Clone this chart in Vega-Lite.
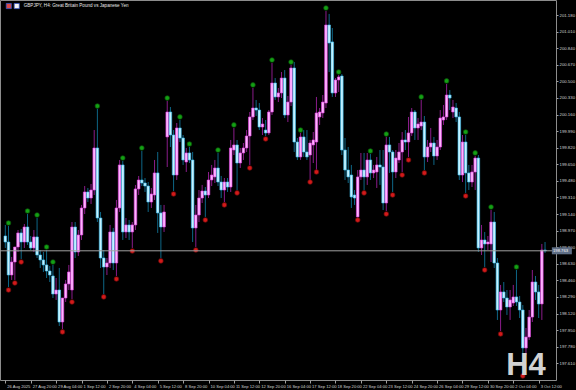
{
"$schema": "https://vega.github.io/schema/vega-lite/v6.json",
"width": 556, "height": 380,
"autosize": {"type": "none"},
"padding": {"left": 0, "top": 0, "right": 20, "bottom": 10},
"background": "#000000",
"config": {"view": {"stroke": "#8c8c8c", "strokeWidth": 1}, "font": "Liberation Sans"},
"resolve": {"axis": {"x": "independent", "y": "independent"}},
"datasets": {"bars": [
{"i":0,"o":198.915,"h":199.028,"l":198.792,"c":198.853},
{"i":1,"o":198.853,"h":199.017,"l":198.392,"c":198.515,"up":199.048,"dn":198.361},
{"i":2,"o":198.515,"h":198.700,"l":198.464,"c":198.648},
{"i":3,"o":198.648,"h":198.771,"l":198.464,"c":198.802,"dn":198.433},
{"i":4,"o":198.802,"h":198.976,"l":198.751,"c":198.946},
{"i":5,"o":198.946,"h":198.987,"l":198.679,"c":198.853,"dn":198.648},
{"i":6,"o":198.853,"h":199.038,"l":198.792,"c":199.007},
{"i":7,"o":199.007,"h":199.140,"l":198.823,"c":198.853,"up":199.171},
{"i":8,"o":198.853,"h":198.915,"l":198.771,"c":198.792},
{"i":9,"o":198.792,"h":198.976,"l":198.751,"c":198.905},
{"i":10,"o":198.905,"h":199.099,"l":198.689,"c":198.720,"up":199.130},
{"i":11,"o":198.720,"h":198.771,"l":198.587,"c":198.669},
{"i":12,"o":198.669,"h":198.751,"l":198.546,"c":198.618},
{"i":13,"o":198.618,"h":198.771,"l":198.484,"c":198.556,"up":198.802},
{"i":14,"o":198.556,"h":198.607,"l":198.443,"c":198.515},
{"i":15,"o":198.505,"h":198.618,"l":198.279,"c":198.320,"up":198.648},
{"i":16,"o":198.320,"h":198.484,"l":198.259,"c":198.361},
{"i":17,"o":198.361,"h":198.587,"l":197.992,"c":198.033},
{"i":18,"o":198.033,"h":198.259,"l":197.961,"c":198.279,"dn":197.931},
{"i":19,"o":198.279,"h":198.464,"l":198.238,"c":198.423},
{"i":20,"o":198.423,"h":198.618,"l":198.361,"c":198.546},
{"i":21,"o":198.361,"h":199.058,"l":198.269,"c":199.007,"dn":198.238},
{"i":22,"o":199.007,"h":199.058,"l":198.689,"c":198.751},
{"i":23,"o":198.751,"h":198.976,"l":198.710,"c":198.925},
{"i":24,"o":198.925,"h":199.233,"l":198.874,"c":199.202},
{"i":25,"o":199.202,"h":199.427,"l":199.140,"c":199.366},
{"i":26,"o":199.366,"h":199.407,"l":199.263,"c":199.304},
{"i":27,"o":199.304,"h":199.448,"l":199.243,"c":199.386},
{"i":28,"o":199.386,"h":200.001,"l":199.335,"c":199.817},
{"i":29,"o":199.817,"h":200.217,"l":199.058,"c":199.099,"up":200.247},
{"i":30,"o":199.099,"h":199.161,"l":198.587,"c":198.689},
{"i":31,"o":198.689,"h":198.771,"l":198.320,"c":198.597,"dn":198.290},
{"i":32,"o":198.597,"h":198.689,"l":198.515,"c":198.638},
{"i":33,"o":198.638,"h":199.028,"l":198.587,"c":198.956},
{"i":34,"o":198.956,"h":198.997,"l":198.566,"c":198.638},
{"i":35,"o":198.638,"h":199.284,"l":198.505,"c":199.202,"dn":198.474},
{"i":36,"o":199.202,"h":199.694,"l":199.161,"c":199.643},
{"i":37,"o":199.643,"h":199.684,"l":198.874,"c":198.956,"up":199.714},
{"i":38,"o":198.956,"h":199.099,"l":198.894,"c":199.028},
{"i":39,"o":199.028,"h":199.079,"l":198.874,"c":198.956},
{"i":40,"o":198.956,"h":199.058,"l":198.792,"c":199.028,"dn":198.761},
{"i":41,"o":199.028,"h":199.438,"l":198.976,"c":199.397},
{"i":42,"o":199.397,"h":199.530,"l":199.335,"c":199.489},
{"i":43,"o":199.489,"h":199.786,"l":199.427,"c":199.458,"up":199.817},
{"i":44,"o":199.458,"h":199.509,"l":199.366,"c":199.427},
{"i":45,"o":199.427,"h":199.468,"l":199.161,"c":199.263},
{"i":46,"o":199.263,"h":199.407,"l":199.202,"c":199.345},
{"i":47,"o":199.335,"h":199.694,"l":199.284,"c":199.561},
{"i":48,"o":199.561,"h":199.776,"l":198.946,"c":199.151},
{"i":49,"o":199.151,"h":199.233,"l":198.689,"c":199.007,"dn":198.659},
{"i":50,"o":199.007,"h":199.233,"l":198.956,"c":199.161},
{"i":51,"o":199.930,"h":200.299,"l":199.622,"c":200.186,"up":200.329},
{"i":52,"o":200.186,"h":200.237,"l":199.827,"c":199.950},
{"i":53,"o":199.950,"h":200.001,"l":199.376,"c":199.540,"dn":199.345},
{"i":54,"o":199.540,"h":200.073,"l":199.489,"c":200.022},
{"i":55,"o":200.022,"h":200.104,"l":199.878,"c":199.919,"up":200.135},
{"i":56,"o":199.919,"h":199.950,"l":199.643,"c":199.694},
{"i":57,"o":199.673,"h":199.817,"l":199.571,"c":199.766},
{"i":58,"o":199.766,"h":199.827,"l":199.663,"c":199.694,"up":199.858},
{"i":59,"o":199.694,"h":199.776,"l":198.853,"c":198.997},
{"i":60,"o":198.997,"h":199.233,"l":198.802,"c":199.130,"dn":198.771},
{"i":61,"o":199.130,"h":199.386,"l":199.058,"c":199.304},
{"i":62,"o":199.304,"h":199.438,"l":199.253,"c":199.376},
{"i":63,"o":199.376,"h":199.417,"l":199.110,"c":199.335,"dn":199.079},
{"i":64,"o":199.335,"h":199.571,"l":199.304,"c":199.489},
{"i":65,"o":199.489,"h":199.643,"l":199.427,"c":199.540},
{"i":66,"o":199.520,"h":199.694,"l":199.458,"c":199.612},
{"i":67,"o":199.612,"h":199.766,"l":199.427,"c":199.468,"up":199.796},
{"i":68,"o":199.468,"h":199.530,"l":199.304,"c":199.386},
{"i":69,"o":199.386,"h":199.509,"l":199.263,"c":199.468,"dn":199.233},
{"i":70,"o":199.468,"h":199.509,"l":199.366,"c":199.417},
{"i":71,"o":199.417,"h":199.899,"l":199.366,"c":199.817},
{"i":72,"o":199.796,"h":200.022,"l":199.745,"c":199.848,"up":200.053},
{"i":73,"o":199.848,"h":199.899,"l":199.386,"c":199.663,"dn":199.356},
{"i":74,"o":199.663,"h":199.817,"l":199.612,"c":199.766},
{"i":75,"o":199.766,"h":199.868,"l":199.694,"c":199.817},
{"i":76,"o":199.817,"h":200.001,"l":199.776,"c":199.940},
{"i":77,"o":199.940,"h":200.186,"l":199.643,"c":200.135,"dn":199.612},
{"i":78,"o":200.135,"h":200.432,"l":200.104,"c":200.227,"up":200.463},
{"i":79,"o":200.227,"h":200.309,"l":200.145,"c":200.206},
{"i":80,"o":200.206,"h":200.278,"l":200.001,"c":200.032},
{"i":81,"o":200.032,"h":200.124,"l":199.950,"c":200.063},
{"i":82,"o":200.001,"h":200.104,"l":199.940,"c":199.971,"dn":199.909},
{"i":83,"o":199.971,"h":200.206,"l":199.950,"c":200.186},
{"i":84,"o":200.186,"h":200.688,"l":200.155,"c":200.483,"up":200.719},
{"i":85,"o":200.483,"h":200.534,"l":200.309,"c":200.340},
{"i":86,"o":200.340,"h":200.432,"l":200.288,"c":200.381},
{"i":87,"o":200.381,"h":200.596,"l":200.329,"c":200.534},
{"i":88,"o":200.534,"h":200.616,"l":200.124,"c":200.155},
{"i":89,"o":200.155,"h":200.350,"l":200.083,"c":200.288},
{"i":90,"o":200.288,"h":200.668,"l":200.247,"c":200.637,"up":200.698},
{"i":91,"o":200.637,"h":200.698,"l":199.776,"c":199.878},
{"i":92,"o":199.878,"h":199.919,"l":199.694,"c":199.725},
{"i":93,"o":199.725,"h":199.971,"l":199.694,"c":199.930,"up":200.001},
{"i":94,"o":199.930,"h":200.001,"l":199.725,"c":199.776},
{"i":95,"o":199.776,"h":200.001,"l":199.694,"c":199.725},
{"i":96,"o":199.745,"h":199.899,"l":199.489,"c":199.868,"dn":199.468},
{"i":97,"o":199.848,"h":199.981,"l":199.663,"c":199.899},
{"i":98,"o":199.878,"h":200.340,"l":199.591,"c":200.176,"dn":199.571},
{"i":99,"o":200.135,"h":200.227,"l":200.053,"c":200.186},
{"i":100,"o":200.176,"h":200.360,"l":200.124,"c":200.288},
{"i":101,"o":200.278,"h":201.221,"l":200.227,"c":201.078,"up":201.252},
{"i":102,"o":201.078,"h":201.191,"l":200.596,"c":200.893},
{"i":103,"o":200.904,"h":201.047,"l":200.340,"c":200.381},
{"i":104,"o":200.381,"h":200.534,"l":200.340,"c":200.514},
{"i":105,"o":200.514,"h":200.565,"l":200.391,"c":200.545,"up":200.596},
{"i":106,"o":200.555,"h":200.575,"l":199.745,"c":199.796},
{"i":107,"o":199.796,"h":199.919,"l":199.489,"c":199.591},
{"i":108,"o":199.591,"h":199.827,"l":199.458,"c":199.520},
{"i":109,"o":199.540,"h":199.643,"l":199.202,"c":199.315},
{"i":110,"o":199.335,"h":199.386,"l":199.233,"c":199.304},
{"i":111,"o":199.110,"h":199.591,"l":199.089,"c":199.520,"dn":199.079},
{"i":112,"o":199.520,"h":199.766,"l":199.489,"c":199.591},
{"i":113,"o":199.591,"h":199.766,"l":199.386,"c":199.520,"dn":199.356},
{"i":114,"o":199.520,"h":199.766,"l":199.438,"c":199.694},
{"i":115,"o":199.694,"h":199.755,"l":199.489,"c":199.561,"up":199.786},
{"i":116,"o":199.561,"h":199.643,"l":199.509,"c":199.591},
{"i":117,"o":199.571,"h":199.725,"l":199.407,"c":199.643},
{"i":118,"o":199.643,"h":199.796,"l":199.438,"c":199.622},
{"i":119,"o":199.622,"h":199.796,"l":199.181,"c":199.253},
{"i":120,"o":199.253,"h":199.930,"l":199.171,"c":199.848,"up":199.960,"dn":199.140},
{"i":121,"o":199.848,"h":199.930,"l":199.561,"c":199.776},
{"i":122,"o":199.776,"h":199.796,"l":199.366,"c":199.571,"dn":199.335},
{"i":123,"o":199.571,"h":199.796,"l":199.509,"c":199.714},
{"i":124,"o":199.694,"h":199.868,"l":199.663,"c":199.776},
{"i":125,"o":199.776,"h":199.981,"l":199.571,"c":199.899,"dn":199.540},
{"i":126,"o":199.899,"h":200.001,"l":199.796,"c":199.878},
{"i":127,"o":199.878,"h":200.135,"l":199.725,"c":199.971,"dn":199.694},
{"i":128,"o":199.971,"h":200.227,"l":199.940,"c":200.186},
{"i":129,"o":200.186,"h":200.206,"l":199.899,"c":200.022},
{"i":130,"o":200.022,"h":200.124,"l":199.899,"c":200.063},
{"i":131,"o":200.042,"h":200.309,"l":200.001,"c":200.083,"up":200.340},
{"i":132,"o":200.083,"h":200.145,"l":199.591,"c":199.725,"dn":199.561},
{"i":133,"o":199.725,"h":199.899,"l":199.673,"c":199.827},
{"i":134,"o":199.827,"h":200.022,"l":199.776,"c":199.868},
{"i":135,"o":199.868,"h":199.930,"l":199.643,"c":199.735},
{"i":136,"o":199.735,"h":199.899,"l":199.694,"c":199.827},
{"i":137,"o":199.827,"h":200.206,"l":199.796,"c":200.124},
{"i":138,"o":200.104,"h":200.258,"l":200.053,"c":200.135},
{"i":139,"o":200.135,"h":200.473,"l":200.104,"c":200.360,"up":200.504},
{"i":140,"o":200.360,"h":200.411,"l":200.206,"c":200.329},
{"i":141,"o":200.186,"h":200.309,"l":200.124,"c":200.237},
{"i":142,"o":200.227,"h":200.278,"l":200.083,"c":200.135},
{"i":143,"o":200.135,"h":200.186,"l":199.489,"c":199.540},
{"i":144,"o":199.540,"h":199.950,"l":199.468,"c":199.878},
{"i":145,"o":199.878,"h":199.950,"l":199.356,"c":199.561,"up":199.981,"dn":199.325},
{"i":146,"o":199.561,"h":199.643,"l":199.386,"c":199.468},
{"i":147,"o":199.468,"h":199.643,"l":199.417,"c":199.571},
{"i":148,"o":199.571,"h":199.735,"l":199.386,"c":199.714,"up":199.766},
{"i":149,"o":199.714,"h":199.745,"l":198.751,"c":198.792},
{"i":150,"o":198.792,"h":199.028,"l":198.720,"c":198.874},
{"i":151,"o":198.874,"h":198.956,"l":198.597,"c":198.833,"dn":198.566},
{"i":152,"o":198.833,"h":198.915,"l":198.771,"c":198.853},
{"i":153,"o":198.833,"h":199.181,"l":198.648,"c":199.058,"up":199.212},
{"i":154,"o":199.058,"h":199.161,"l":198.587,"c":198.638},
{"i":155,"o":198.638,"h":198.689,"l":198.054,"c":198.156},
{"i":156,"o":198.156,"h":198.413,"l":197.941,"c":198.341,"dn":197.910},
{"i":157,"o":198.341,"h":198.443,"l":198.238,"c":198.279},
{"i":158,"o":198.279,"h":198.361,"l":198.105,"c":198.187},
{"i":159,"o":198.187,"h":198.361,"l":198.054,"c":198.259},
{"i":160,"o":198.228,"h":198.413,"l":198.197,"c":198.290},
{"i":161,"o":198.290,"h":198.566,"l":198.197,"c":198.238,"up":198.597},
{"i":162,"o":198.238,"h":198.300,"l":198.074,"c":198.156},
{"i":163,"o":198.156,"h":198.207,"l":197.510,"c":197.767,"dn":197.480},
{"i":164,"o":197.767,"h":197.972,"l":197.695,"c":197.879},
{"i":165,"o":197.879,"h":198.156,"l":197.849,"c":198.084},
{"i":166,"o":198.084,"h":198.566,"l":198.033,"c":198.443},
{"i":167,"o":198.443,"h":198.505,"l":198.259,"c":198.341},
{"i":168,"o":198.341,"h":198.413,"l":198.074,"c":198.218},
{"i":169,"o":198.218,"h":198.833,"l":198.054,"c":198.771},
{"i":170,"o":198.771,"h":198.853,"l":198.741,"c":198.763}
]},
"data": {"name": "bars"},
"layer": [
{"mark": {"type": "rule", "strokeWidth": 1},
 "encoding": {
  "x": {"field": "i", "type": "quantitative",
   "scale": {"domain": [-0.1, 171.88], "nice": false, "zero": false},
   "axis": {"values": [0,8,16,24,32,40,48,56,64,72,80,88,96,104,112,120,128,136,144,152,160,168],
    "labelExpr": "['26 Aug 2025','27 Aug 20:00','29 Aug 04:00','1 Sep 12:00','2 Sep 20:00','4 Sep 04:00','5 Sep 12:00','8 Sep 20:00','10 Sep 04:00','11 Sep 12:00','12 Sep 20:00','16 Sep 04:00','17 Sep 12:00','18 Sep 20:00','22 Sep 04:00','23 Sep 12:00','24 Sep 20:00','26 Sep 04:00','29 Sep 12:00','30 Sep 20:00','2 Oct 04:00','3 Oct 12:00'][round(datum.value/8)]",
    "labelAlign": "left", "labelBaseline": "top", "labelFont": "Liberation Sans", "labelFontSize": 4.1, "labelColor": "#d4d4d4",
    "labelPadding": 1.5, "labelOffset": 1.5, "tickColor": "#a0a0a0", "tickSize": 3, "domain": false, "grid": false, "title": null,
    "labelOverlap": false, "labelBound": false, "labelFlush": false}},
  "y": {"field": "l", "type": "quantitative",
   "scale": {"domain": [197.4385, 201.334], "nice": false, "zero": false},
   "axis": {"orient": "right", "values": [197.61,197.78,197.95,198.12,198.29,198.46,198.63,198.8,198.97,199.14,199.31,199.48,199.65,199.82,199.99,200.16,200.33,200.5,200.67,200.84,201.01,201.18],
    "format": ".3f", "labelFont": "Liberation Sans", "labelFontSize": 4.3, "labelColor": "#d4d4d4", "labelPadding": 1,
    "tickColor": "#a0a0a0", "tickSize": 2, "domain": false, "grid": false, "title": null, "labelOverlap": false, "labelBound": false, "labelFlush": false}},
  "y2": {"field": "h"},
  "color": {"condition": {"test": "datum.c > datum.o", "value": "#8a1c8a"}, "value": "#0e6686"}
 }},
{"mark": {"type": "bar", "size": 2.6, "strokeWidth": 0.6},
 "encoding": {
  "x": {"field": "i", "type": "quantitative", "axis": null},
  "y": {"field": "o", "type": "quantitative", "axis": null},
  "y2": {"field": "c"},
  "fill": {"condition": {"test": "datum.c > datum.o", "value": "#ffb4ff"}, "value": "#c4f2ff"},
  "stroke": {"condition": {"test": "datum.c > datum.o", "value": "#e23ee2"}, "value": "#38bdf0"}
 }},
{"transform": [{"filter": "isValid(datum.up)"}],
 "mark": {"type": "point", "shape": "circle", "filled": true, "size": 22, "fill": "#14a014", "stroke": "#0a500a", "strokeWidth": 0.7, "opacity": 1},
 "encoding": {
  "x": {"field": "i", "type": "quantitative", "axis": null},
  "y": {"field": "up", "type": "quantitative", "axis": null}
 }},
{"transform": [{"filter": "isValid(datum.dn)"}],
 "mark": {"type": "point", "shape": "circle", "filled": true, "size": 22, "fill": "#d21a1a", "stroke": "#6a0a0a", "strokeWidth": 0.7, "opacity": 1},
 "encoding": {
  "x": {"field": "i", "type": "quantitative", "axis": null},
  "y": {"field": "dn", "type": "quantitative", "axis": null}
 }},
{"transform": [{"filter": "datum.i == 170"}],
 "mark": {"type": "rule", "color": "#a0a0a0", "strokeWidth": 1},
 "encoding": {
  "y": {"field": "c", "type": "quantitative", "axis": null}
 }},
{"transform": [{"filter": "datum.i == 170"}],
 "mark": {"type": "tick", "orient": "horizontal", "size": 20, "thickness": 7, "color": "#5e6e86", "opacity": 1},
 "encoding": {
  "x": {"datum": 175.3, "type": "quantitative", "axis": null},
  "y": {"field": "c", "type": "quantitative", "axis": null}
 }},
{"transform": [{"filter": "datum.i == 170"}],
 "mark": {"type": "text", "align": "left", "baseline": "top", "dy": -1.5, "font": "Liberation Sans", "fontSize": 4.2, "color": "#ffffff"},
 "encoding": {
  "x": {"datum": 172.5, "type": "quantitative", "axis": null},
  "y": {"field": "c", "type": "quantitative", "axis": null},
  "text": {"field": "c", "type": "quantitative", "format": ".3f"}
 }},
{"data": {"values": [{"icon": "GBP", "k": 1.1}, {"icon": "JPY", "k": 3.6}]},
 "mark": {"type": "point", "shape": "square", "filled": true, "size": 26, "strokeWidth": 0.8, "opacity": 1},
 "encoding": {
  "x": {"field": "k", "type": "quantitative", "axis": null},
  "y": {"datum": 201.272, "type": "quantitative", "axis": null},
  "fill": {"field": "icon", "type": "nominal", "scale": {"domain": ["GBP", "JPY"], "range": ["#d84848", "#f2f2f2"]}, "legend": null},
  "stroke": {"field": "icon", "type": "nominal", "scale": {"domain": ["GBP", "JPY"], "range": ["#3858c8", "#3858c8"]}, "legend": null}
 }},
{"data": {"values": [{"label": "GBPJPY, H4:  Great Britain Pound vs Japanese Yen"}]},
 "mark": {"type": "text", "align": "left", "baseline": "middle", "font": "Liberation Sans", "fontSize": 4.6, "color": "#e8e8e8"},
 "encoding": {
  "x": {"datum": 5.8, "type": "quantitative", "axis": null},
  "y": {"datum": 201.272, "type": "quantitative", "axis": null},
  "text": {"field": "label"}
 }},
{"data": {"values": [{"label": "H4"}]},
 "mark": {"type": "text", "align": "center", "baseline": "alphabetic", "font": "Liberation Sans", "fontWeight": "bold", "fontSize": 31, "color": "#d2d2d2"},
 "encoding": {
  "x": {"datum": 164.0, "type": "quantitative", "axis": null},
  "y": {"datum": 197.49, "type": "quantitative", "axis": null},
  "text": {"field": "label"}
 }}
]
}
